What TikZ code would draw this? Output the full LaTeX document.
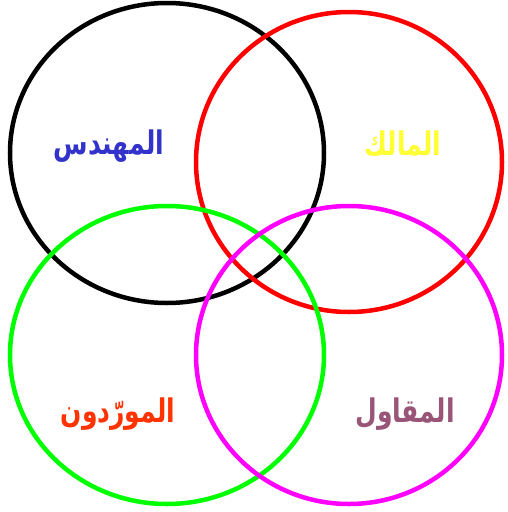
\documentclass[tikz,border=0pt]{standalone}
\usepackage{fontspec}
\newfontfamily\arabicfont[Script=Arabic]{DejaVu Sans}
\TeXXeTstate=1
\definecolor{cgreen}{HTML}{00FF00}
\definecolor{cmag}{HTML}{FF00FF}
\definecolor{tblue}{HTML}{3333CC}
\definecolor{tyellow}{HTML}{FFFF33}
\definecolor{tred}{HTML}{FF3300}
\definecolor{tpurple}{HTML}{995577}
\newcommand{\artxt}[1]{\scalebox{1}[1.3]{\arabicfont\bfseries\fontsize{25}{30}\selectfont\beginR #1\endR}}
\begin{document}
\begin{tikzpicture}[x=1pt,y=-1pt,
  ring/.style={line width=4.5pt},
  lbl/.style={inner sep=0pt}]
\useasboundingbox (0,0) rectangle (507,512);
\draw[ring, black] (167,153) ellipse [x radius=157, y radius=150];
\draw[ring, red] (349,162) ellipse [x radius=153, y radius=150];
\draw[ring, cgreen] (167,355) ellipse [x radius=157, y radius=149];
\draw[ring, cmag] (349,355) ellipse [x radius=153, y radius=149];
\node[lbl, text=tblue] (eng) at (109,146) {\artxt{المهندس}};
\node[lbl, text=tyellow] (own) at (403,144) {\artxt{المالك}};
\node[lbl, text=tred] (sup) at (118,414) {\artxt{المورّدون}};
\node[lbl, text=tpurple] (con) at (405,414) {\artxt{المقاول}};
\end{tikzpicture}
\end{document}
